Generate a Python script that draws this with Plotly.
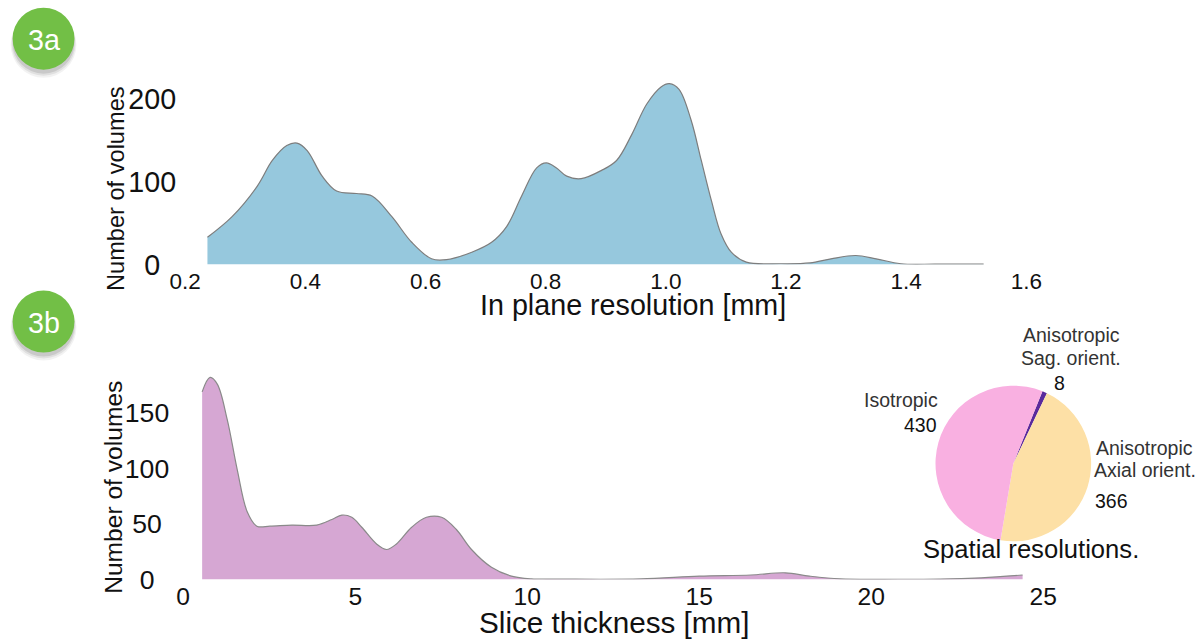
import plotly.graph_objects as go

# ---- data ----
inplane_res = [0.237, 0.278, 0.320, 0.345, 0.369, 0.386, 0.403, 0.428, 0.452, 0.485, 0.511,
               0.544, 0.577, 0.610, 0.635, 0.677, 0.710, 0.735, 0.760, 0.785, 0.801, 0.818,
               0.835, 0.859, 0.893, 0.918, 0.943, 0.968, 0.992, 1.006, 1.022, 1.042, 1.059,
               1.076, 1.092, 1.109, 1.134, 1.192, 1.240, 1.275, 1.316, 1.350, 1.391, 1.450, 1.529]
inplane_count = [33, 58, 95, 126, 144, 147, 138, 107, 89, 86, 83,
                 58, 27, 7, 6, 15, 27, 46, 83, 117, 123, 117,
                 107, 104, 114, 126, 157, 194, 215, 219, 212, 175, 126,
                 77, 37, 15, 3, 1, 2, 7, 11, 7, 1, 0.5, 0.5]

slice_thick = [0.55, 0.78, 0.99, 1.28, 1.57, 1.86, 2.14, 2.52, 3.16, 3.88, 4.32, 4.61, 4.90,
               5.19, 5.62, 5.91, 6.20, 6.64, 7.07, 7.51, 7.94, 8.38, 8.96, 9.54, 10.12,
               11.0, 13.3, 15.0, 16.5, 17.5, 18.2, 19.1, 20.8, 22.0, 23.2, 24.4]
slice_count = [169, 182, 176, 144, 99, 61, 48, 48, 49, 49, 54, 58, 56,
               47, 32, 27, 32, 47, 56, 56, 45, 27, 11, 3, 0.5,
               0.3, 0.5, 3, 4, 6, 3, 0.5, 0.2, 0.3, 1.5, 4]

pie_labels = ["Anisotropic<br>Sag. orient.", "Anisotropic<br>Axial orient.", "Isotropic"]
pie_values = [8, 366, 430]
pie_colors = ["#5a2a9c", "#fde0a6", "#f9b0e1"]

top_xticks = [0.2, 0.4, 0.6, 0.8, 1.0, 1.2, 1.4, 1.6]
top_yticks = [0, 100, 200]
top_yticktext = ["0\u00a0\u00a0", "100", "200"]
bot_xticks = [0, 5, 10, 15, 20, 25]
bot_yticks = [0, 50, 100, 150]
bot_yticktext = ["0\u00a0\u00a0", "50\u00a0", "100", "150"]

# the captured page is shown slightly reduced; positions below are given in picture pixels
# and converted to page pixels
S, OX, OY = 0.976, 13.4, -0.7
W, H = 1220, 655
FONT = "Liberation Sans"


def px(x):
    return ((x - OX) / S) / W


def py(y):
    return 1 - ((y - OY) / S) / H


def fs(size):
    return round(size / S, 1)


fig = go.Figure()

fig.add_trace(go.Scatter(
    x=inplane_res, y=inplane_count, mode="lines", line=dict(color="#7d7d7d", width=1.2, shape="spline"),
    fill="tozeroy", fillcolor="#96c8dd", xaxis="x", yaxis="y", showlegend=False, hoverinfo="skip"))

fig.add_trace(go.Scatter(
    x=slice_thick, y=slice_count, mode="lines", line=dict(color="#8a8a8a", width=1.2, shape="spline"),
    fill="tozeroy", fillcolor="#d6a7d3", xaxis="x2", yaxis="y2", showlegend=False, hoverinfo="skip"))

cx, cy, r = 1013, 463, 78
fig.add_trace(go.Pie(
    labels=pie_labels, values=pie_values, sort=False, direction="clockwise", rotation=22,
    marker=dict(colors=pie_colors, line=dict(width=0)), textinfo="none", showlegend=False,
    domain=dict(x=[px(cx - r), px(cx + r)], y=[py(cy + r), py(cy - r)]), hoverinfo="label+value"))

axis_common = dict(showgrid=False, zeroline=False, showline=False, ticks="")

fig.update_layout(
    width=W, height=H, margin=dict(l=0, r=0, t=0, b=0),
    paper_bgcolor="white", plot_bgcolor="white",
    xaxis=dict(axis_common, domain=[px(183), px(1026)], range=[0.2, 1.6], tickvals=top_xticks,
               tickformat=".1f", anchor="y", ticklabelstandoff=1,
               tickfont=dict(family=FONT, color="#111", size=fs(22))),
    yaxis=dict(axis_common, domain=[py(264), py(78)], range=[0, 225], tickvals=top_yticks,
               ticktext=top_yticktext, anchor="x",
               tickfont=dict(family=FONT, color="#111", size=fs(28)), ticklabelstandoff=8),
    xaxis2=dict(axis_common, domain=[px(181), px(1043)], range=[0, 25], tickvals=bot_xticks,
                anchor="y2", tickfont=dict(family=FONT, color="#111", size=fs(24))),
    yaxis2=dict(axis_common, domain=[py(579), py(368)], range=[0, 190], tickvals=bot_yticks,
                ticktext=bot_yticktext, anchor="x2",
                tickfont=dict(family=FONT, color="#111", size=fs(26)), ticklabelstandoff=13),
)

annotations = [
    dict(text="In plane resolution [mm]", x=px(632), y=py(304), font=dict(size=28)),
    dict(text="Number of volumes", x=px(113), y=py(188), textangle=-90, font=dict(size=23)),
    dict(text="Slice thickness [mm]", x=px(613), y=py(622), font=dict(size=29)),
    dict(text="Number of volumes", x=px(111), y=py(487), textangle=-90, font=dict(size=24)),
    dict(text="Isotropic", x=px(940), y=py(399), xanchor="right", font=dict(size=19, color="#333")),
    dict(text="430", x=px(939), y=py(424), xanchor="right", font=dict(size=19)),
    dict(text="Anisotropic", x=px(1071), y=py(334), font=dict(size=19, color="#333")),
    dict(text="Sag. orient.", x=px(1071), y=py(357), font=dict(size=19, color="#333")),
    dict(text="8", x=px(1059), y=py(382), font=dict(size=19)),
    dict(text="Anisotropic", x=px(1094), y=py(447), xanchor="left", font=dict(size=19, color="#333")),
    dict(text="Axial orient.", x=px(1092), y=py(470), xanchor="left", font=dict(size=19, color="#333")),
    dict(text="366", x=px(1093), y=py(501), xanchor="left", font=dict(size=19)),
    dict(text="Spatial resolutions.", x=px(1031), y=py(549), font=dict(size=25)),
]
for a in annotations:
    f = dict(family=FONT, color="#111")
    f.update(a.pop("font", {}))
    f["size"] = fs(f["size"])
    a.setdefault("xanchor", "center")
    fig.add_annotation(xref="paper", yref="paper", showarrow=False, yanchor="middle", font=f, **a)

# green badges with soft shadow
for (bx, by, label) in [(41, 38, "3a"), (41, 321, "3b")]:
    br = 31
    for k, grow, alpha in [(6, 2, 0.05), (5, 1, 0.07), (4, 0, 0.10)]:
        fig.add_shape(type="circle", xref="paper", yref="paper",
                      x0=px(bx - br - grow), x1=px(bx + br + grow),
                      y0=py(by + br + k + grow), y1=py(by - br + k - grow),
                      fillcolor=f"rgba(0,0,0,{alpha})", line=dict(width=0))
    fig.add_shape(type="circle", xref="paper", yref="paper",
                  x0=px(bx - br), x1=px(bx + br), y0=py(by + br), y1=py(by - br),
                  fillcolor="#72bf46", line=dict(width=0))
    fig.add_annotation(xref="paper", yref="paper", x=px(bx), y=py(by + 1), text=label, showarrow=False,
                       xanchor="center", yanchor="middle",
                       font=dict(family=FONT, size=fs(28), color="white"))

fig.write_html("out.html", config={"displayModeBar": False},
               post_script="document.body.style.margin='0';document.body.style.overflow='hidden';")
